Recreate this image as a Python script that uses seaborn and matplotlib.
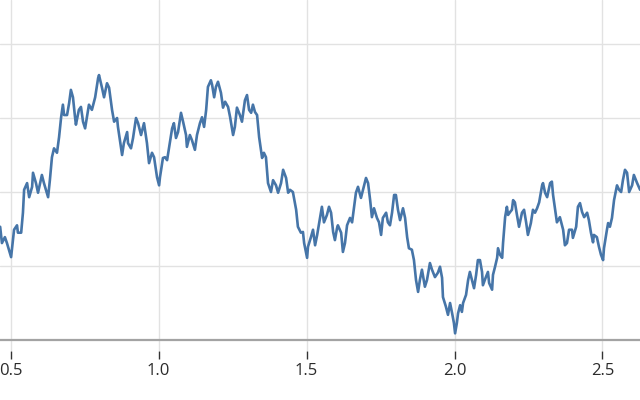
import matplotlib
matplotlib.use("Agg")
import matplotlib.pyplot as plt
import numpy as np
import pandas as pd
import seaborn as sns

# ---- data ----
x_vals = [0.465, 0.471, 0.481, 0.488, 0.502, 0.512, 0.522, 0.525, 0.536, 0.542,
          0.546, 0.556, 0.563, 0.573, 0.576, 0.586, 0.593, 0.606, 0.613, 0.627,
          0.633, 0.640, 0.647, 0.657, 0.664, 0.671, 0.677, 0.681, 0.691, 0.698,
          0.704, 0.711, 0.718, 0.721, 0.731, 0.738, 0.745, 0.752, 0.758, 0.765,
          0.775, 0.786, 0.796, 0.799, 0.809, 0.816, 0.826, 0.833, 0.843, 0.850,
          0.860, 0.863, 0.877, 0.883, 0.894, 0.897, 0.907, 0.914, 0.924, 0.931,
          0.941, 0.951, 0.961, 0.968, 0.978, 0.985, 0.995, 1.002, 1.005, 1.015,
          1.022, 1.029, 1.036, 1.046, 1.052, 1.059, 1.066, 1.076, 1.083, 1.093,
          1.096, 1.106, 1.113, 1.123, 1.130, 1.140, 1.147, 1.154, 1.161, 1.167,
          1.177, 1.181, 1.188, 1.194, 1.201, 1.211, 1.218, 1.225, 1.235, 1.242,
          1.252, 1.258, 1.265, 1.275, 1.282, 1.292, 1.299, 1.306, 1.313, 1.319,
          1.326, 1.333, 1.340, 1.350, 1.356, 1.363, 1.370, 1.380, 1.387, 1.397,
          1.404, 1.414, 1.421, 1.431, 1.438, 1.444, 1.454, 1.465, 1.471, 1.481,
          1.488, 1.492, 1.502, 1.505, 1.515, 1.522, 1.529, 1.536, 1.546, 1.552,
          1.559, 1.569, 1.576, 1.583, 1.590, 1.596, 1.603, 1.606, 1.617, 1.623,
          1.630, 1.637, 1.647, 1.654, 1.661, 1.667, 1.674, 1.684, 1.691, 1.701,
          1.708, 1.715, 1.721, 1.728, 1.738, 1.745, 1.752, 1.758, 1.769, 1.775,
          1.782, 1.789, 1.796, 1.802, 1.809, 1.816, 1.826, 1.833, 1.840, 1.846,
          1.856, 1.863, 1.870, 1.877, 1.883, 1.890, 1.900, 1.907, 1.917, 1.924,
          1.934, 1.944, 1.951, 1.958, 1.961, 1.971, 1.978, 1.985, 1.992, 1.998,
          2.002, 2.008, 2.012, 2.019, 2.025, 2.029, 2.039, 2.046, 2.052, 2.059,
          2.066, 2.073, 2.079, 2.086, 2.093, 2.096, 2.106, 2.113, 2.117, 2.127,
          2.130, 2.137, 2.144, 2.147, 2.154, 2.161, 2.164, 2.171, 2.177, 2.181,
          2.188, 2.194, 2.198, 2.204, 2.211, 2.218, 2.228, 2.235, 2.242, 2.248,
          2.258, 2.265, 2.272, 2.279, 2.286, 2.296, 2.299, 2.306, 2.313, 2.323,
          2.329, 2.333, 2.340, 2.346, 2.356, 2.367, 2.373, 2.380, 2.387, 2.397,
          2.400, 2.411, 2.417, 2.424, 2.431, 2.438, 2.448, 2.454, 2.461, 2.468,
          2.471, 2.481, 2.488, 2.495, 2.502, 2.505, 2.515, 2.519, 2.525, 2.532,
          2.539, 2.549, 2.556, 2.563, 2.569, 2.576, 2.583, 2.590, 2.600, 2.606,
          2.617, 2.627]

y_vals = [1.53, 1.31, 1.39, 1.31, 1.12, 1.49, 1.55, 1.45, 1.45, 1.72,
          2.03, 2.12, 1.93, 2.07, 2.26, 2.12, 1.99, 2.23, 2.12, 1.93,
          2.16, 2.47, 2.59, 2.53, 2.74, 3.01, 3.18, 3.04, 3.04, 3.20,
          3.38, 3.28, 3.01, 2.91, 3.11, 3.15, 2.95, 2.86, 3.01, 3.18,
          3.11, 3.28, 3.54, 3.58, 3.41, 3.28, 3.47, 3.41, 3.11, 2.95,
          3.00, 2.88, 2.50, 2.66, 2.81, 2.66, 2.59, 2.73, 3.00, 2.93,
          2.77, 2.93, 2.66, 2.39, 2.53, 2.47, 2.20, 2.09, 2.20, 2.46,
          2.47, 2.43, 2.61, 2.86, 2.93, 2.73, 2.81, 3.07, 2.95, 2.77,
          2.61, 2.77, 2.70, 2.57, 2.77, 2.93, 3.01, 2.88, 3.11, 3.42,
          3.51, 3.45, 3.28, 3.42, 3.49, 3.34, 3.14, 3.22, 3.15, 3.01,
          2.77, 2.88, 3.14, 3.04, 2.95, 3.24, 3.31, 3.11, 3.07, 3.18,
          3.08, 3.04, 2.74, 2.46, 2.53, 2.47, 2.12, 2.00, 2.16, 2.09,
          1.99, 2.12, 2.30, 2.19, 1.99, 2.03, 2.00, 1.76, 1.53, 1.45,
          1.46, 1.31, 1.11, 1.26, 1.39, 1.49, 1.28, 1.42, 1.66, 1.80,
          1.59, 1.69, 1.80, 1.72, 1.46, 1.35, 1.51, 1.55, 1.45, 1.19,
          1.31, 1.55, 1.65, 1.59, 1.80, 1.99, 2.07, 1.92, 2.03, 2.19,
          2.12, 1.89, 1.66, 1.78, 1.65, 1.59, 1.42, 1.65, 1.72, 1.59,
          1.55, 1.72, 1.96, 1.96, 1.76, 1.62, 1.78, 1.65, 1.39, 1.24,
          1.22, 1.08, 0.81, 0.65, 0.81, 0.95, 0.72, 0.81, 1.04, 0.95,
          0.85, 0.91, 0.99, 0.84, 0.58, 0.45, 0.34, 0.50, 0.36, 0.23,
          0.09, 0.23, 0.36, 0.47, 0.38, 0.50, 0.61, 0.81, 0.92, 0.81,
          0.70, 0.88, 1.08, 1.08, 0.92, 0.74, 0.85, 0.92, 0.77, 0.68,
          0.88, 0.99, 1.11, 1.24, 1.15, 1.11, 1.31, 1.66, 1.80, 1.69,
          1.73, 1.76, 1.89, 1.86, 1.69, 1.53, 1.72, 1.76, 1.59, 1.42,
          1.58, 1.76, 1.72, 1.78, 1.86, 2.09, 2.12, 1.99, 1.93, 2.12,
          2.14, 1.96, 1.76, 1.59, 1.66, 1.49, 1.28, 1.31, 1.49, 1.49,
          1.38, 1.53, 1.80, 1.85, 1.73, 1.66, 1.72, 1.62, 1.45, 1.32,
          1.42, 1.39, 1.26, 1.15, 1.08, 1.24, 1.49, 1.58, 1.53, 1.65,
          1.89, 2.09, 2.03, 2.00, 2.16, 2.30, 2.26, 2.00, 2.09, 2.23,
          2.12, 2.03]

x_ticks = [0.5, 1.0, 1.5, 2.0, 2.5]
x_tick_labels = ["0.5", "1.0", "1.5", "2.0", "2.5"]
y_grid = [1, 2, 3, 4]

# ---- figure ----
sns.set_theme(style="white")
plt.rcParams["font.family"] = ["Open Sans", "DejaVu Sans"]

fig = plt.figure(figsize=(6.4, 4.0), dpi=100)
ax = fig.add_axes([0.0, 49 / 400, 1.0, 351 / 400])

df = pd.DataFrame({"x": x_vals, "y": y_vals})
sns.lineplot(data=df, x="x", y="y", ax=ax, color="#4675a8", linewidth=1.9,
             sort=False, estimator=None, zorder=3)

ax.set_xlim(0.4645, 2.6267)
ax.set_ylim(-11 / 74, 340 / 74)

ax.set_xticks(x_ticks)
ax.set_xticklabels(x_tick_labels)
ax.set_yticks(y_grid)
ax.set_yticklabels([])

ax.set_axisbelow(True)
ax.grid(True, color="#e2e2e2", linewidth=1.0)
ax.axhline(0, color="#a3a3a3", linewidth=1.6, zorder=2)

for s in ax.spines.values():
    s.set_visible(False)

ax.tick_params(axis="x", bottom=True, direction="out", length=5.5, width=1.0,
               color="#333333", labelsize=12, labelcolor="#2b2b2b", pad=3)
ax.tick_params(axis="y", left=False, labelleft=False)

ax.set_xlabel("")
ax.set_ylabel("")

fig.savefig("out.png", dpi=100)
